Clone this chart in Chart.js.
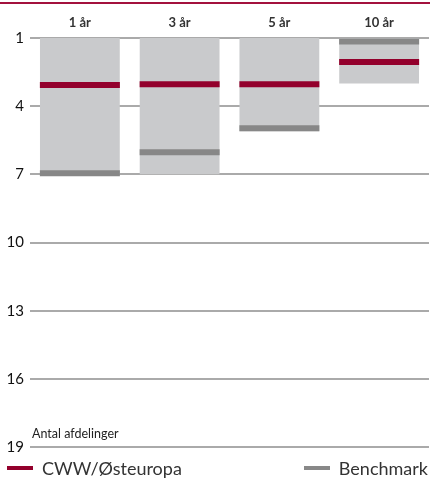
<!DOCTYPE html>
<html>
<head>
<meta charset="utf-8">
<script src="https://cdn.jsdelivr.net/npm/chart.js@4"></script>
<style>
body { margin: 0; background: #fff; font-family: Lato, "Open Sans", sans-serif; }
#wrap { position: relative; width: 430px; height: 478px; overflow: hidden; }
#topline { position: absolute; left: 0; top: 2px; width: 430px; height: 2px; background: #a3113d; }
#box { position: absolute; left: 0; top: 0; width: 430px; height: 462px; }
#ytitle { position: absolute; left: 32px; top: 426px; font-size: 12.5px; color: #222; }
.leg { position: absolute; top: 457px; font-size: 18px; color: #333; white-space: nowrap; }
.leg span { display: inline-block; width: 26px; height: 4px; vertical-align: middle; margin-right: 9px; position: relative; top: -2px; }
</style>
</head>
<body>
<div id="wrap">
  <div id="topline"></div>
  <div id="box"><canvas id="myChart"></canvas></div>
  <div id="ytitle">Antal afdelinger</div>
  <div class="leg" style="left:7px"><span style="background:#93002c"></span>CWW/Østeuropa</div>
  <div class="leg" style="right:2px"><span style="background:#888"></span>Benchmark</div>
</div>
<script>
var categories = ["1 år", "3 år", "5 år", "10 år"];
var rangeLow = [1, 1, 1, 1];
var rangeHigh = [7, 7, 5.1, 3];
var cww = [3.07, 3.03, 3.03, 2.06];
var benchmark = [6.95, 6.03, 4.97, 1.15];
var yTicks = [1, 4, 7, 10, 13, 16, 19];

var ranges = new Array;
for (var i = 0; i < categories.length; i++) {
    ranges.push([rangeLow[i], rangeHigh[i]]);
}

var ctx = document.getElementById("myChart").getContext('2d');
new Chart(ctx, {
    data: {
        labels: categories,
        datasets: [{
            type: 'line',
            label: 'CWW/Østeuropa',
            data: cww,
            showLine: false,
            pointStyle: 'line',
            pointRadius: 40,
            pointHoverRadius: 40,
            pointBorderWidth: 6,
            pointHoverBorderWidth: 6,
            borderColor: '#93002c',
            order: 1
        }, {
            type: 'line',
            label: 'Benchmark',
            data: benchmark,
            showLine: false,
            pointStyle: 'line',
            pointRadius: 40,
            pointHoverRadius: 40,
            pointBorderWidth: 6,
            pointHoverBorderWidth: 6,
            borderColor: '#878787',
            order: 2
        }, {
            type: 'bar',
            label: 'Interval',
            data: ranges,
            backgroundColor: '#c9cacc',
            barPercentage: 0.8,
            categoryPercentage: 1,
            borderSkipped: false,
            order: 3
        }]
    },
    options: {
        responsive: true,
        maintainAspectRatio: false,
        animation: false,
        layout: { autoPadding: false, padding: { top: 0, bottom: 15, right: 1 } },
        plugins: { legend: { display: false }, tooltip: { enabled: false } },
        scales: {
            x: {
                position: 'top',
                offset: true,
                grid: { display: false, drawTicks: false },
                border: { display: false },
                ticks: { color: '#333', font: { family: 'Lato', size: 13, weight: 'bold' }, padding: 7 },
                afterFit: function(scale) { scale.height = 38; }
            },
            y: {
                reverse: true,
                min: 1,
                max: 19,
                afterBuildTicks: function(scale) {
                    scale.ticks = yTicks.map(function(v) { return { value: v }; });
                },
                grid: { color: '#aaaaaa', lineWidth: 2, drawTicks: false },
                border: { display: false },
                ticks: { color: '#111', font: { family: 'Lato', size: 15 }, padding: 6 },
                afterFit: function(scale) { scale.width = 30; }
            }
        }
    }
});
</script>
</body>
</html>
